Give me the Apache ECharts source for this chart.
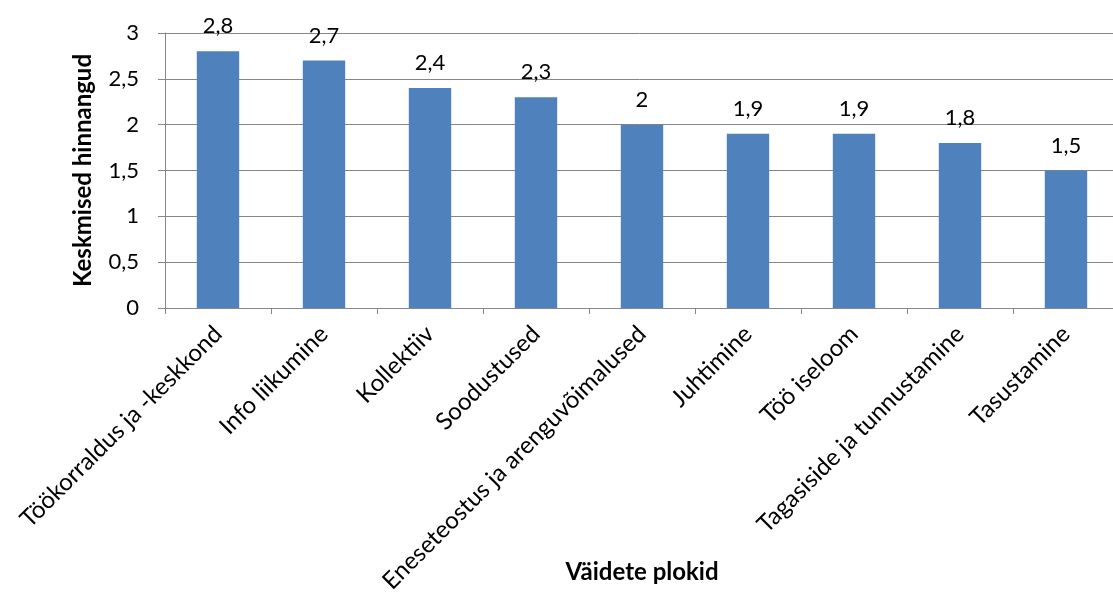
<!DOCTYPE html>
<html><head><meta charset="utf-8">
<script src="https://cdn.jsdelivr.net/npm/echarts@6/dist/echarts.min.js"></script>
<style>html,body{margin:0;padding:0;background:#fff}#c{width:1113px;height:605px}</style>
</head><body><div id="c"></div>
<script>
const categories = ["Töökorraldus ja -keskkond","Info liikumine","Kollektiiv","Soodustused","Eneseteostus ja arenguvõimalused","Juhtimine","Töö iseloom","Tagasiside ja tunnustamine","Tasustamine"];
const values = [2.8, 2.7, 2.4, 2.3, 2.0, 1.9, 1.9, 1.8, 1.5];
const yTitle = "Keskmised hinnangud";
const xTitle = "Väidete plokid";
const FONT = "Lato, 'Open Sans', sans-serif";
const fmt = v => String(v).replace('.', ',');
const chart = echarts.init(document.getElementById('c'));
chart.setOption({
  animation: false,
  grid: {left: 165, right: -6, top: 33, bottom: 297, containLabel: false, outerBoundsMode: 'none'},
  xAxis: {
    type: 'category', data: categories,
    axisLine: {lineStyle: {color: '#868686', width: 1}},
    axisTick: {show: true, length: 6, alignWithLabel: false, lineStyle: {color: '#868686'}},
    axisLabel: {rotate: 45, color: '#000', fontSize: 24, fontFamily: FONT, margin: 22, interval: 0},
    name: xTitle, nameLocation: 'middle', nameGap: 252, nameMoveOverlap: false,
    nameTextStyle: {fontWeight: 'bold', fontSize: 24, color: '#000', fontFamily: FONT}
  },
  yAxis: {
    type: 'value', min: 0, max: 3, interval: 0.5,
    axisLine: {show: true, lineStyle: {color: '#868686'}},
    axisTick: {show: true, length: 7, lineStyle: {color: '#868686'}},
    splitLine: {lineStyle: {color: '#868686', width: 1}},
    axisLabel: {color: '#000', fontSize: 22, fontFamily: FONT, margin: 26, formatter: v => fmt(v)},
    name: yTitle, nameLocation: 'middle', nameGap: 70, nameRotate: 90, nameMoveOverlap: false,
    nameTextStyle: {fontWeight: 'bold', fontSize: 24, color: '#000', fontFamily: FONT}
  },
  series: [{
    type: 'bar', data: values, barWidth: '40%',
    itemStyle: {color: '#4F81BD'},
    label: {show: true, position: 'top', distance: 14, color: '#000', fontSize: 22, fontFamily: FONT, formatter: p => fmt(p.value)}
  }]
});
</script></body></html>
